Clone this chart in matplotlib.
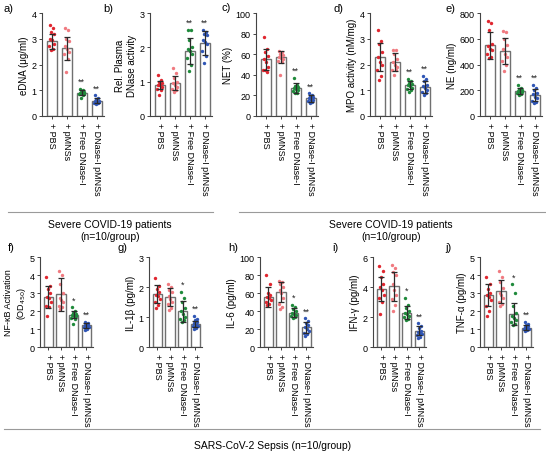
import matplotlib
matplotlib.use("Agg")
import matplotlib.pyplot as plt
import numpy as np

plt.rcParams['font.family'] = ['Liberation Sans', 'DejaVu Sans']

W, H = 546, 456
groups = ["+ PBS", "+ pMNSs", "+ Free DNase-I", "+ DNase-I pMNSs"]
colors = ["#e0262f", "#f07a80", "#1f8a3b", "#2f55b5"]

# ---- data: (points per group), means, sds, significance ----
a_pts = [[3.55, 3.4, 3.25, 3.2, 3.0, 2.95, 2.8, 2.7, 2.6, 2.55],
         [3.4, 3.35, 3.0, 2.9, 2.7, 2.6, 2.5, 2.4, 2.2, 1.7],
         [1.05, 1.0, 0.95, 0.95, 0.9, 0.9, 0.85, 0.85, 0.8, 0.7],
         [0.8, 0.7, 0.65, 0.6, 0.6, 0.55, 0.55, 0.5, 0.5, 0.45]]
a_mean = [2.9, 2.63, 0.9, 0.6]
a_sd = [0.3, 0.45, 0.1, 0.1]

b_pts = [[1.2, 1.05, 1.0, 0.95, 0.9, 0.9, 0.85, 0.8, 0.75, 0.6],
         [1.4, 1.25, 1.1, 1.0, 0.95, 0.9, 0.85, 0.8, 0.75, 0.7],
         [2.5, 2.5, 2.2, 2.0, 1.95, 1.9, 1.8, 1.7, 1.5, 1.3],
         [2.5, 2.45, 2.4, 2.35, 2.2, 2.15, 2.1, 1.9, 1.75, 1.55]]
b_mean = [0.9, 0.97, 1.9, 2.12]
b_sd = [0.12, 0.2, 0.38, 0.35]

c_pts = [[77, 65, 62, 58, 55, 52, 48, 45, 43, 45],
         [63, 62, 60, 59, 57, 56, 55, 53, 52, 40],
         [37, 30, 29, 28, 27, 26, 25, 24, 22, 22],
         [22, 20, 19, 18, 17, 16, 16, 15, 14, 13]]
c_mean = [55, 57, 27, 17]
c_sd = [10, 6, 5, 3]

d_pts = [[3.35, 2.9, 2.8, 2.5, 2.3, 2.1, 2.0, 1.8, 1.55, 1.4],
         [2.55, 2.55, 2.4, 2.2, 2.1, 2.0, 1.9, 1.8, 1.8, 1.6],
         [1.45, 1.35, 1.3, 1.25, 1.2, 1.15, 1.1, 1.05, 1.0, 0.95],
         [1.55, 1.45, 1.35, 1.2, 1.15, 1.1, 1.0, 0.95, 0.9, 0.8]]
d_mean = [2.3, 2.1, 1.2, 1.12]
d_sd = [0.55, 0.35, 0.15, 0.22]

e_pts = [[740, 720, 670, 560, 540, 520, 510, 480, 460, 450],
         [660, 650, 600, 550, 520, 480, 460, 430, 400, 350],
         [240, 220, 210, 200, 195, 190, 185, 180, 170, 160],
         [240, 220, 200, 180, 170, 150, 140, 120, 110, 100]]
e_mean = [550, 505, 195, 165]
e_sd = [105, 100, 25, 45]

f_pts = [[3.9, 3.4, 3.2, 3.0, 2.8, 2.7, 2.5, 2.3, 2.2, 1.7],
         [4.2, 4.0, 3.5, 3.0, 2.7, 2.6, 2.5, 2.3, 2.2, 2.1],
         [2.2, 2.0, 1.9, 1.85, 1.8, 1.75, 1.7, 1.6, 1.55, 1.3],
         [1.4, 1.35, 1.3, 1.25, 1.2, 1.15, 1.1, 1.1, 1.0, 0.95]]
f_mean = [2.78, 2.92, 1.8, 1.2]
f_sd = [0.6, 0.9, 0.2, 0.12]

g_pts = [[2.3, 2.05, 1.95, 1.85, 1.75, 1.7, 1.6, 1.5, 1.4, 1.3],
         [2.1, 2.0, 1.9, 1.85, 1.7, 1.6, 1.5, 1.45, 1.3, 1.25],
         [1.85, 1.65, 1.5, 1.3, 1.2, 1.1, 1.0, 0.95, 0.9, 0.85],
         [1.05, 0.95, 0.9, 0.85, 0.8, 0.75, 0.7, 0.7, 0.65, 0.6]]
g_mean = [1.77, 1.67, 1.2, 0.78]
g_sd = [0.3, 0.3, 0.35, 0.1]

h_pts = [[80, 70, 60, 58, 56, 55, 52, 50, 48, 47],
         [73, 72, 70, 67, 63, 60, 55, 48, 45, 42],
         [47, 45, 42, 40, 38, 37, 36, 35, 33, 32],
         [32, 29, 27, 24, 22, 20, 18, 16, 14, 12]]
h_mean = [56, 61, 38, 22]
h_sd = [11, 11, 5, 6]

i_pts = [[5.4, 5.1, 4.7, 4.2, 4.0, 3.8, 3.5, 3.3, 3.0, 2.2],
         [5.5, 5.3, 5.0, 4.8, 4.2, 3.8, 3.5, 3.2, 2.8, 2.4],
         [3.3, 2.8, 2.6, 2.4, 2.3, 2.2, 2.1, 2.0, 1.9, 1.8],
         [1.6, 1.4, 1.3, 1.1, 1.0, 0.95, 0.9, 0.8, 0.7, 0.6]]
i_mean = [3.9, 4.05, 2.3, 1.08]
i_sd = [0.8, 0.95, 0.45, 0.3]

j_pts = [[3.9, 3.5, 3.2, 3.0, 2.9, 2.8, 2.6, 2.3, 2.0, 1.7],
         [4.25, 3.9, 3.6, 3.3, 3.0, 2.9, 2.7, 2.5, 2.4, 2.3],
         [3.5, 3.0, 2.3, 1.9, 1.7, 1.6, 1.5, 1.4, 1.3, 1.2],
         [1.4, 1.3, 1.2, 1.15, 1.1, 1.05, 1.0, 1.0, 0.95, 0.9]]
j_mean = [2.88, 3.1, 1.83, 1.08]
j_sd = [0.6, 0.65, 0.6, 0.12]

sig_top = ["", "", "**", "**"]
sig_bottom = ["", "", "*", "**"]

ylabels = ["eDNA (\u03bcg/ml)", "Rel. Plasma\nDNase activity", "NET (%)",
           "MPO activity (nM/mg)", "NE (ng/ml)",
           "NF-\u03baB Activation\n(OD$_{450}$)", "IL-1\u03b2 (pg/ml)", "IL-6 (pg/ml)",
           "IFN-\u03b3 (pg/ml)", "TNF-\u03b1 (pg/ml)"]
yticks = [[0, 1, 2, 3, 4], [0, 1, 2, 3], [0, 20, 40, 60, 80, 100], [0, 1, 2, 3, 4],
          [0, 200, 400, 600, 800], [0, 1, 2, 3, 4, 5], [0, 1, 2, 3],
          [0, 20, 40, 60, 80, 100], [0, 2, 4, 6], [0, 1, 2, 3, 4, 5]]
panel_letters = ["a)", "b)", "c)", "d)", "e)", "f)", "g)", "h)", "i)", "j)"]

all_pts = [a_pts, b_pts, c_pts, d_pts, e_pts, f_pts, g_pts, h_pts, i_pts, j_pts]
all_mean = [a_mean, b_mean, c_mean, d_mean, e_mean, f_mean, g_mean, h_mean, i_mean, j_mean]
all_sd = [a_sd, b_sd, c_sd, d_sd, e_sd, f_sd, g_sd, h_sd, i_sd, j_sd]
all_sig = [sig_top] * 5 + [sig_bottom] * 5

# ---- layout (pixels) ----
axis_left = [42, 150, 256, 370, 480, 40, 149, 260, 373, 480]
row_top = [14, 258]
row_bot = [117, 348]
unit = [15.0, 12.7]
barw = [0.65, 0.72]
letter_pos = [(4, 9), (103, 9), (222, 8), (333, 9), (445, 9),
              (8, 248), (118, 248), (228, 248), (332, 248), (445, 248)]
ylab_size = [7, 7, 7, 7, 7, 6.5, 7, 7, 7, 7]
ylab_pad = [2, 2, 2, 2, 2, 1, 2, 2, 2, 2]
jitter = np.array([-0.2, 0.15, -0.05, 0.22, -0.15, 0.05, 0.25, -0.25, 0.1, -0.1])

fig = plt.figure(figsize=(W / 100, H / 100), dpi=100)
x0 = -0.65
x1 = 3.5
edge = "#707070"

for k in range(10):
    r = 0 if k < 5 else 1
    wpx = (x1 - x0) * unit[r]
    ax = fig.add_axes([axis_left[k] / W, 1 - row_bot[r] / H, wpx / W,
                       (row_bot[r] - row_top[r]) / H])
    pos = np.arange(4)
    ax.bar(pos, all_mean[k], width=barw[r], color="white", edgecolor=edge,
           linewidth=1.0, zorder=1)
    for gi in range(4):
        p = np.array(all_pts[k][gi])
        ax.scatter(gi + jitter * barw[r], p, s=6, color=colors[gi], zorder=3,
                   linewidths=0)
    ax.errorbar(pos, all_mean[k], yerr=all_sd[k], fmt="none", ecolor="#2a2a2a",
                elinewidth=0.9, capsize=2.2, capthick=0.9, zorder=4)
    yt = yticks[k]
    ymax = yt[-1]
    for gi in range(4):
        if all_sig[k][gi]:
            top = max(max(all_pts[k][gi]), all_mean[k][gi] + all_sd[k][gi])
            ax.text(gi, top + 0.03 * ymax, all_sig[k][gi], ha="center", va="bottom",
                    fontsize=6.5, color="#222222")
    ax.set_xlim(x0, x1)
    ax.set_ylim(0, ymax)
    ax.set_yticks(yt)
    ax.set_yticklabels([str(v) for v in yt], fontsize=6.5)
    ax.set_xticks(pos)
    ax.set_xticklabels(groups, rotation=270, fontsize=6.5, va="top", ha="center")
    ax.tick_params(axis="both", length=2.5, width=0.7, color="#444444", pad=1.5)
    for s in ["top", "right"]:
        ax.spines[s].set_visible(False)
    for s in ["left", "bottom"]:
        ax.spines[s].set_color("#444444")
        ax.spines[s].set_linewidth(0.8)
    ax.set_ylabel(ylabels[k], fontsize=ylab_size[k], labelpad=ylab_pad[k])
    lx, ly = letter_pos[k]
    fig.text(lx / W, 1 - ly / H, panel_letters[k], fontsize=8, ha="left", va="center")

# ---- group annotations ----
line_col = "#9a9a9a"
fig.add_artist(plt.Line2D([8 / W, 213 / W], [1 - 213 / H, 1 - 213 / H], color=line_col, lw=0.8))
fig.add_artist(plt.Line2D([239 / W, 545 / W], [1 - 213 / H, 1 - 213 / H], color=line_col, lw=0.8))
fig.text(110 / W, 1 - 225 / H, "Severe COVID-19 patients", fontsize=7.5, ha="center", va="center")
fig.text(110 / W, 1 - 237 / H, "(n=10/group)", fontsize=7.5, ha="center", va="center")
fig.text(391 / W, 1 - 225 / H, "Severe COVID-19 patients", fontsize=7.5, ha="center", va="center")
fig.text(391 / W, 1 - 237 / H, "(n=10/group)", fontsize=7.5, ha="center", va="center")
fig.add_artist(plt.Line2D([4 / W, 540 / W], [1 - 430 / H, 1 - 430 / H], color=line_col, lw=0.8))
fig.text(273 / W, 1 - 446 / H, "SARS-CoV-2 Sepsis (n=10/group)", fontsize=7.5, ha="center", va="center")

fig.savefig("out.png", dpi=100)
